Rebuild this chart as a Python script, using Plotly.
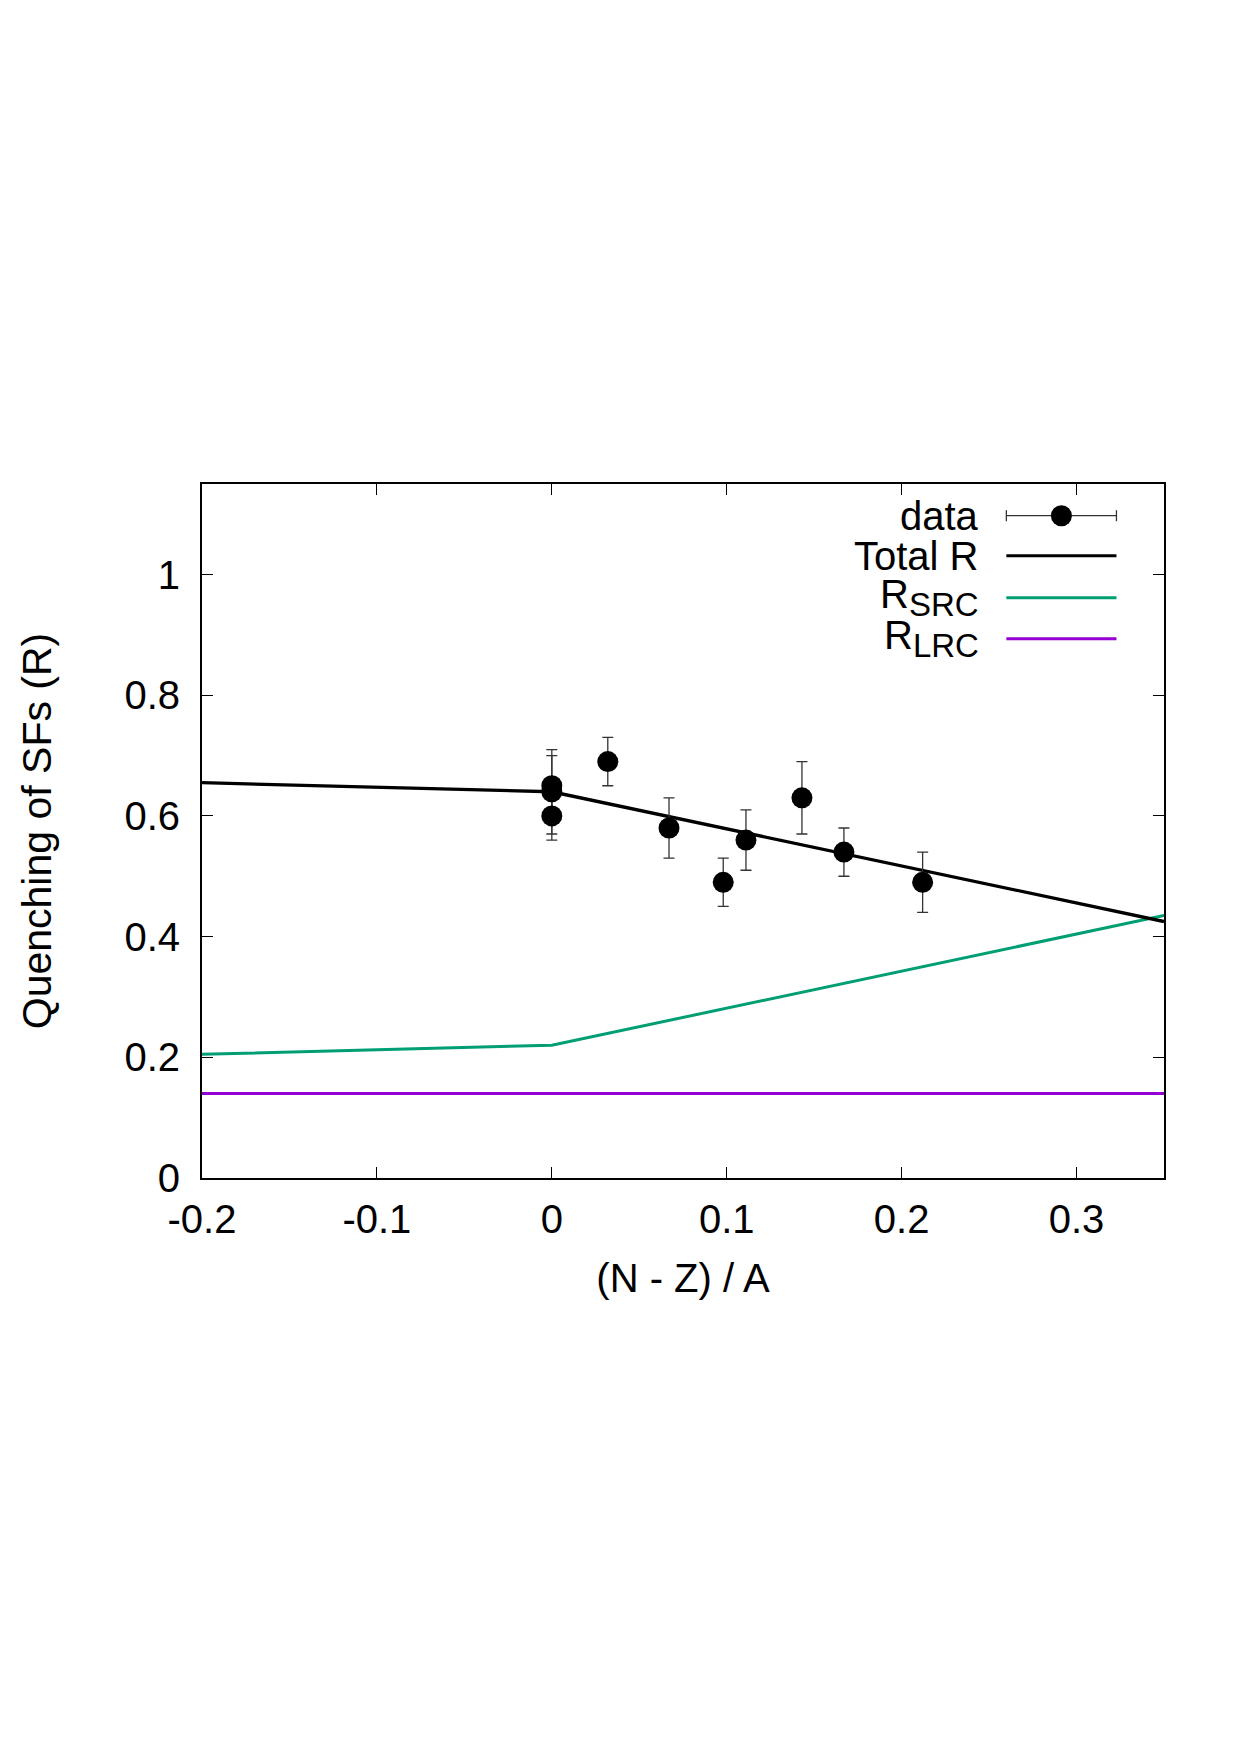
import plotly.graph_objects as go

# ---- data ----
data_x = [0.0, 0.0, 0.0, 0.032, 0.067, 0.098, 0.111, 0.143, 0.167, 0.212]
data_y = [0.65, 0.64, 0.60, 0.69, 0.58, 0.49, 0.56, 0.63, 0.54, 0.49]
data_err = [0.05, 0.07, 0.04, 0.04, 0.05, 0.04, 0.05, 0.06, 0.04, 0.05]

curve_x = [-0.2, 0.0, 0.35]
total_r = [0.655, 0.64, 0.425]
r_src = [0.205, 0.22, 0.435]
lrc_x = [-0.2, 0.35]
r_lrc = [0.14, 0.14]

x_tick_vals = [-0.2, -0.1, 0.0, 0.1, 0.2, 0.3]
x_tick_text = ["-0.2", "-0.1", "0", "0.1", "0.2", "0.3"]
y_tick_vals = [0, 0.2, 0.4, 0.6, 0.8, 1.0]
y_tick_text = ["0", "0.2", "0.4", "0.6", "0.8", "1"]

legend_labels = ["data", "Total R",
                 "R<sub><span style='font-size:33px'>SRC</span></sub>",
                 "R<sub><span style='font-size:33px'>LRC</span></sub>"]

GREEN = "#009e73"
PURPLE = "#9400d3"
FONT = "Liberation Sans, Arial, Helvetica, sans-serif"

fig = go.Figure()
fig.add_trace(go.Scatter(x=lrc_x, y=r_lrc, mode="lines",
                         line=dict(color=PURPLE, width=3), showlegend=False))
fig.add_trace(go.Scatter(x=curve_x, y=r_src, mode="lines",
                         line=dict(color=GREEN, width=3), showlegend=False))
fig.add_trace(go.Scatter(x=curve_x, y=total_r, mode="lines",
                         line=dict(color="black", width=3.3), showlegend=False))
fig.add_trace(go.Scatter(x=data_x, y=data_y, mode="markers",
                         marker=dict(color="black", size=21, symbol="circle"),
                         error_y=dict(type="data", array=data_err, visible=True,
                                      color="#333333", thickness=1.3, width=5.5),
                         showlegend=False))

# ---- manual gnuplot-style legend (text left, sample right) ----
px0, px1 = 202.4, 1163.5
py_bot, py_top = 1178.0, 484.3
def pxx(p):
    return (p - px0) / (px1 - px0)
def pyy(p):
    return (py_bot - p) / (py_bot - py_top)

row_y = [516, 556, 598, 639]
text_y = [516, 556, 598, 639]
line_x0, line_x1 = pxx(1006), pxx(1116)
annotations = []
for lab, ty in zip(legend_labels, text_y):
    annotations.append(dict(x=pxx(981), y=pyy(ty), xref="paper", yref="paper",
                            text=lab, showarrow=False, xanchor="right", yanchor="middle",
                            font=dict(family=FONT, size=40, color="black")))
shapes = []
# data sample: horizontal error bar + caps + dot
shapes.append(dict(type="line", xref="paper", yref="paper", x0=line_x0, x1=line_x1,
                   y0=pyy(row_y[0]), y1=pyy(row_y[0]), line=dict(color="#333333", width=1.3)))
for cx in (line_x0, line_x1):
    shapes.append(dict(type="line", xref="paper", yref="paper", x0=cx, x1=cx,
                       y0=pyy(row_y[0] - 5.5), y1=pyy(row_y[0] + 5.5),
                       line=dict(color="#333333", width=1.3)))
shapes.append(dict(type="circle", xref="paper", yref="paper",
                   xsizemode="pixel", ysizemode="pixel",
                   xanchor=pxx(1061), yanchor=pyy(row_y[0]),
                   x0=-10.5, x1=10.5, y0=-10.5, y1=10.5,
                   fillcolor="black", line=dict(color="black", width=0)))
for col, ry in zip(["black", GREEN, PURPLE], row_y[1:]):
    shapes.append(dict(type="line", xref="paper", yref="paper", x0=line_x0, x1=line_x1,
                       y0=pyy(ry), y1=pyy(ry), line=dict(color=col, width=3)))

axis_common = dict(showline=True, linecolor="black", linewidth=2, mirror="allticks",
                   ticks="inside", ticklen=11, tickwidth=1, tickcolor="black",
                   showgrid=False, zeroline=False,
                   tickfont=dict(family=FONT, size=40, color="black"))

fig.update_layout(
    width=1240, height=1755,
    margin=dict(l=202, r=76, t=484, b=577, pad=0),
    paper_bgcolor="white", plot_bgcolor="white",
    font=dict(family=FONT, size=40, color="black"),
    xaxis=dict(range=[-0.2, 0.35], tickvals=x_tick_vals, ticktext=x_tick_text,
               title=dict(text="(N - Z) / A", font=dict(family=FONT, size=40), standoff=24),
               ticklabelstandoff=5, **axis_common),
    yaxis=dict(range=[0, 1.15], tickvals=y_tick_vals, ticktext=y_tick_text,
               title=dict(text="Quenching of SFs (R)", font=dict(family=FONT, size=41), standoff=60),
               ticklabelstandoff=12, **axis_common),
    annotations=annotations, shapes=shapes,
    showlegend=False,
)

fig.write_html("out.html")
